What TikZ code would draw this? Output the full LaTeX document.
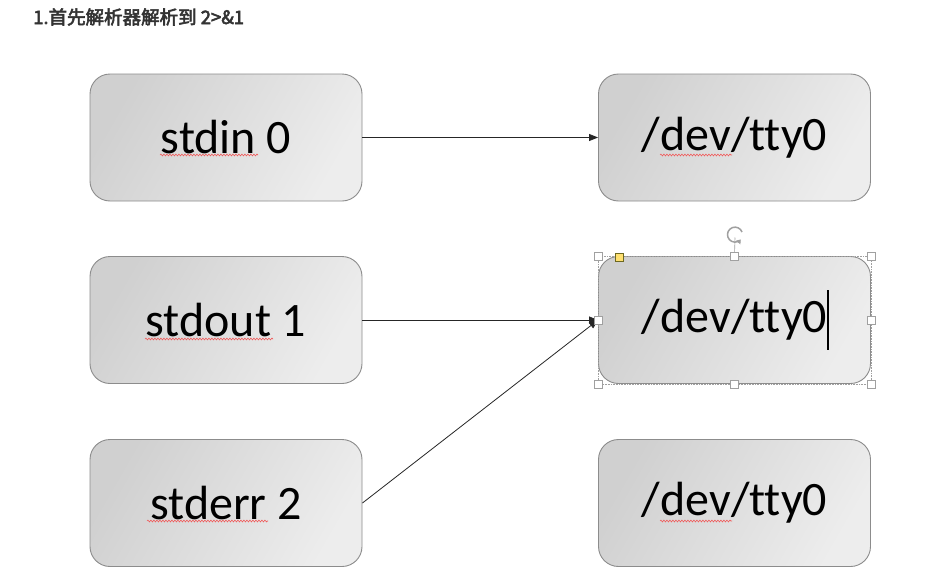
\documentclass[tikz,border=0pt]{standalone}
\usepackage{fontspec}
\setmainfont{Carlito}[Ligatures=NoCommon]
\newfontfamily\cjkb[FakeBold=3]{Noto Sans CJK SC}
\usetikzlibrary{arrows.meta,decorations.pathmorphing}
\definecolor{boxborder}{HTML}{8C8C8C}
\definecolor{boxdark}{HTML}{D0D0D0}
\definecolor{boxlight}{HTML}{EDEDED}
\definecolor{squig}{HTML}{F05A5A}
\definecolor{titlecol}{HTML}{333333}
\definecolor{handlecol}{HTML}{A0A0A0}
\definecolor{yellowh}{HTML}{FFE070}
\tikzset{
  fdbox/.style={draw=boxborder, line width=0.9pt, rounded corners=20pt,
    minimum width=272pt, minimum height=127pt, inner sep=0pt,
    left color=boxdark, right color=boxlight, shading angle=60,
    font=\fontsize{48}{56}\selectfont, text=black},
  conn/.style={draw=black!85, line width=0.8pt, -{Triangle[length=9pt,width=7pt]}},
  wavy/.style={draw=squig, line width=0.6pt, decorate,
    decoration={snake, amplitude=0.9pt, segment length=3pt}},
  handle/.style={draw=handlecol, fill=white, line width=0.6pt, minimum size=8pt, inner sep=0pt},
}
\begin{document}
\begin{tikzpicture}[x=1pt,y=-1pt]
\useasboundingbox[fill=white] (0,0) rectangle (930,581);
\node[anchor=base west, text=titlecol, font=\cjkb\fontsize{18.5}{22}\selectfont, inner sep=0pt] (title) at (33,24) {1.首先解析器解析到 2>\&1};

\node[fdbox] (stdin) at (226,137.5) {stdin 0};
\node[fdbox] (stdout) at (226,320) {stdout 1};
\node[fdbox] (stderr) at (226,503) {stderr 2};
\node[fdbox] (tty0) at (734.5,137.5) {/dev/tty0};
\node[fdbox] (tty1) at (734.5,320) {/dev/tty0};
\node[fdbox] (tty2) at (734.5,503) {/dev/tty0};

% spelling squiggles
\draw[wavy] (160,155) -- (258,155);
\draw[wavy] (145,339) -- (273,339);
\draw[wavy] (147,521) -- (268,521);
\draw[wavy] (660,155) -- (732,155);
\draw[wavy] (660,521) -- (732,521);

% connectors
\draw[conn] (stdin.east) -- (tty0.west);
\draw[conn] (stdout.east) -- (tty1.west);
\draw[conn] (stderr.east) -- (tty1.west);

% selection frame
\draw[handlecol, densely dotted, line width=0.6pt] (tty1.north west) rectangle (tty1.south east);
\draw[handlecol, line width=0.6pt] (tty1.north) -- (735,237.5);
\draw[handlecol, line width=1.5pt, -{Triangle[length=4pt,width=5.5pt]}] (742.05,232.07) arc[start angle=20, end angle=320, radius=7.5pt];
\foreach \a in {north west,north,north east,east,south east,south,south west,west}
  \node[handle] at (tty1.\a) {};
\node[handle, draw=olive!70!black, fill=yellowh, minimum size=8pt] (adj) at (619,257) {};

% text cursor
\draw[black, line width=1.1pt] (828,290) -- (828,350);
\end{tikzpicture}
\end{document}
